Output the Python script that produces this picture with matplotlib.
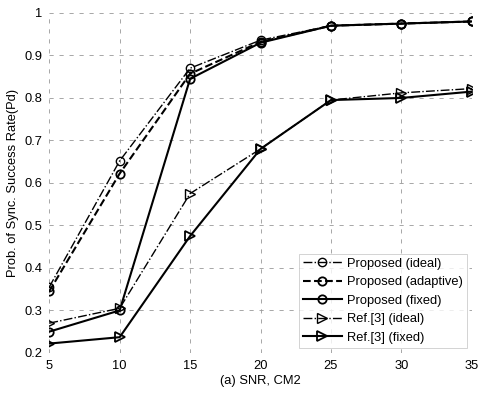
import matplotlib
matplotlib.use('Agg')
import matplotlib.pyplot as plt

snr = [5, 10, 15, 20, 25, 30, 35]
prop_ideal = [0.355, 0.652, 0.870, 0.936, 0.970, 0.975, 0.980]
prop_adaptive = [0.345, 0.622, 0.857, 0.932, 0.970, 0.975, 0.980]
prop_fixed = [0.250, 0.300, 0.845, 0.930, 0.970, 0.975, 0.980]
ref_ideal = [0.270, 0.305, 0.575, 0.680, 0.795, 0.812, 0.822]
ref_fixed = [0.222, 0.237, 0.475, 0.680, 0.795, 0.800, 0.815]

plt.rcParams['font.family'] = ['Liberation Sans', 'DejaVu Sans']

fig = plt.figure(figsize=(4.78, 3.93), dpi=100)
ax = fig.add_axes([0.103, 0.102, 0.884, 0.865])

ax.plot(snr, prop_ideal, color='k', ls='-.', lw=1.0, marker='o', ms=6,
        mfc='none', mew=1.0, label='Proposed (ideal)')
ax.plot(snr, prop_adaptive, color='k', ls='--', lw=1.5, marker='o', ms=6,
        mfc='none', mew=1.3, label='Proposed (adaptive)')
ax.plot(snr, prop_fixed, color='k', ls='-', lw=1.5, marker='o', ms=6,
        mfc='none', mew=1.3, label='Proposed (fixed)')
ax.plot(snr, ref_ideal, color='k', ls='-.', lw=1.0, marker='>', ms=7,
        mfc='none', mew=1.0, label='Ref.[3] (ideal)')
ax.plot(snr, ref_fixed, color='k', ls='-', lw=1.5, marker='>', ms=7,
        mfc='none', mew=1.3, label='Ref.[3] (fixed)')

ax.set_xlim(5, 35)
ax.set_ylim(0.2, 1.0)
ax.set_xticks(snr)
ax.set_yticks([0.2, 0.3, 0.4, 0.5, 0.6, 0.7, 0.8, 0.9, 1.0])
ax.set_yticklabels(['0.2', '0.3', '0.4', '0.5', '0.6', '0.7', '0.8', '0.9', '1'])
ax.grid(True, ls=(0, (5, 7)), color='0.6', lw=0.6)
for s in ax.spines.values():
    s.set_visible(False)
ax.tick_params(direction='in', length=0, labelsize=9.3, pad=5)

ax.set_xlabel('(a) SNR, CM2', fontsize=9.3, labelpad=2)
ax.set_ylabel('Prob. of Sync. Success Rate(Pd)', fontsize=9.3, labelpad=4)

leg = ax.legend(loc='lower right', fontsize=9.3, frameon=True, fancybox=False,
                edgecolor='0.75', handlelength=3.0, labelspacing=0.5,
                borderaxespad=0.4, handletextpad=0.4, borderpad=0.3)
leg.get_frame().set_linewidth(0.6)

fig.savefig('out.png', dpi=100)
